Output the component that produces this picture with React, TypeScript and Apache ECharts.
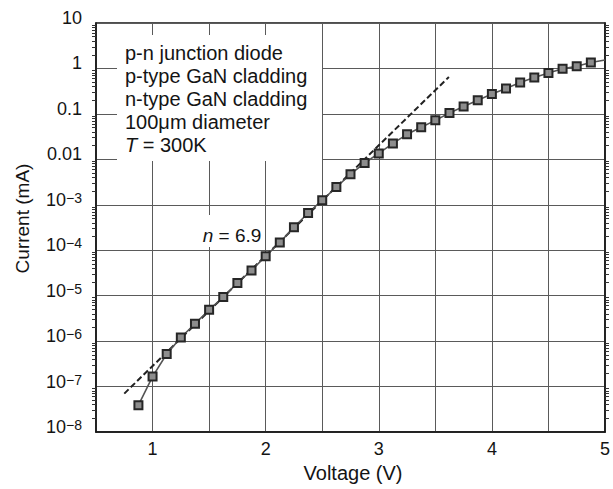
import React, { useEffect, useRef } from "react";
import * as echarts from "echarts";

// ---- data ----
const voltage = [
  0.875, 1.0, 1.125, 1.25, 1.375, 1.5, 1.625, 1.75, 1.875, 2.0, 2.125, 2.25,
  2.375, 2.5, 2.625, 2.75, 2.875, 3.0, 3.125, 3.25, 3.375, 3.5, 3.625, 3.75,
  3.875, 4.0, 4.125, 4.25, 4.375, 4.5, 4.625, 4.75, 4.875, 5.0,
];
const currentMA = [
  3.9e-8, 1.66e-7, 5.2e-7, 1.2e-6, 2.4e-6, 4.9e-6, 9.3e-6, 1.9e-5, 3.6e-5,
  7.4e-5, 1.48e-4, 3.2e-4, 6.6e-4, 1.26e-3, 2.45e-3, 4.7e-3, 8.3e-3, 0.0135,
  0.0224, 0.0355, 0.051, 0.072, 0.105, 0.145, 0.2, 0.275, 0.363, 0.49, 0.63,
  0.79, 0.98, 1.12, 1.35, 1.53,
];
const fitVoltage = [0.75, 3.62];
const fitCurrent = [7.0e-8, 0.65];
const xIntegerLabels = [1, 2, 3, 4, 5];
const yDecadeExponents = [-8, -7, -6, -5, -4, -3, -2, -1, 0, 1];
const infoLines = [
  "p-n junction diode",
  "p-type GaN cladding",
  "n-type GaN cladding",
  "100\u03bcm diameter",
  "{i|T} = 300K",
];
const fitLabel = "{i|n} = 6.9";

const FONT = '"Liberation Sans", Arial, Helvetica, sans-serif';
const INK = "#141414";

function yLabel(v: number): string {
  const e = Math.round(Math.log10(v));
  if (!yDecadeExponents.includes(e)) return "";
  if (e >= -2) {
    const s = e >= 0 ? String(Math.pow(10, e)) : v.toFixed(-e);
    return `{b|${s}}`;
  }
  return `{b|10}{s|\u2212${-e}}`;
}

export default function App() {
  const ref = useRef<HTMLDivElement>(null);
  useEffect(() => {
    if (!ref.current) return;
    const chart = echarts.init(ref.current, undefined, { renderer: "svg" });
    const lastIdx = voltage.length - 1;
    const mainData = voltage.map((v, i) =>
      i === lastIdx
        ? { value: [v, currentMA[i]], symbolSize: 0 }
        : { value: [v, currentMA[i]] }
    );
    const fitData = fitVoltage.map((v, i) => [v, fitCurrent[i]]);

    const minorCommon = {
      show: true,
      splitNumber: 9,
      length: 4,
      lineStyle: { color: "#333", width: 1 },
    };

    chart.setOption({
      animation: false,
      backgroundColor: "#fff",
      textStyle: { fontFamily: FONT },
      grid: {
        left: 96,
        right: 7,
        top: 23,
        bottom: 57,
        show: true,
        borderColor: INK,
        borderWidth: 1.5,
        backgroundColor: "#fff",
      },
      xAxis: {
        type: "value",
        min: 0.5,
        max: 5,
        interval: 0.5,
        name: "Voltage (V)",
        nameLocation: "middle",
        nameGap: 28,
        nameTextStyle: {
          fontSize: 20,
          color: INK,
          fontFamily: FONT,
          padding: [0, 0, 0, 5],
        },
        axisLine: { show: true, lineStyle: { color: INK, width: 1.5 } },
        axisTick: { show: false },
        splitLine: { show: true, lineStyle: { color: "#5a5a5a", width: 1 } },
        axisLabel: {
          fontSize: 18,
          color: INK,
          fontFamily: FONT,
          margin: 8,
          formatter: (v: number) =>
            xIntegerLabels.includes(v) ? String(v) : "",
        },
      },
      yAxis: [
        {
          type: "log",
          logBase: 10,
          min: 1e-8,
          max: 10,
          position: "left",
          name: "Current (mA)",
          nameLocation: "middle",
          nameGap: 64,
          nameTextStyle: {
            fontSize: 19,
            color: INK,
            fontFamily: FONT,
            padding: [0, 0, 0, 18],
          },
          axisLine: { show: true, lineStyle: { color: INK, width: 1.5 } },
          axisTick: { show: false },
          minorTick: minorCommon,
          splitLine: { show: true, lineStyle: { color: "#5a5a5a", width: 1 } },
          axisLabel: {
            margin: 14,
            padding: [0, 0, 10, 0],
            formatter: yLabel,
            rich: {
              b: { fontSize: 18, lineHeight: 18, color: INK, fontFamily: FONT },
              s: {
                fontSize: 14,
                lineHeight: 12,
                verticalAlign: "top",
                color: INK,
                fontFamily: FONT,
              },
            },
          },
        },
        {
          type: "log",
          logBase: 10,
          min: 1e-8,
          max: 10,
          position: "right",
          axisLine: { show: true, lineStyle: { color: INK, width: 1.5 } },
          axisTick: { show: false },
          minorTick: minorCommon,
          splitLine: { show: false },
          axisLabel: { show: false },
        },
      ],
      series: [
        {
          type: "line",
          name: "fit",
          data: fitData,
          symbol: "none",
          lineStyle: { color: "#222", width: 2, type: [6, 3] },
          z: 3,
        },
        {
          type: "line",
          name: "I-V",
          data: mainData,
          symbol: "rect",
          symbolSize: 8,
          itemStyle: { color: "#8d8d8d", borderColor: "#262626", borderWidth: 2 },
          lineStyle: { color: "#555", width: 1.6 },
          z: 4,
        },
      ],
      graphic: [
        {
          type: "rect",
          z: 100,
          shape: { x: 117, y: 35, width: 205, height: 126 },
          style: { fill: "#fff" },
        },
        {
          type: "text",
          z: 101,
          x: 125,
          y: 41,
          style: {
            text: infoLines.join("\n"),
            fontSize: 20,
            lineHeight: 23,
            fontFamily: FONT,
            fill: INK,
            rich: {
              i: {
                fontSize: 20,
                lineHeight: 23,
                fontStyle: "italic",
                fontFamily: FONT,
                fill: INK,
              },
            },
          },
        },
        {
          type: "rect",
          z: 100,
          shape: { x: 197, y: 215, width: 66, height: 32 },
          style: { fill: "#fff" },
        },
        {
          type: "text",
          z: 101,
          x: 232,
          y: 235,
          style: {
            text: fitLabel,
            fontSize: 19,
            fontFamily: FONT,
            fill: INK,
            align: "center",
            verticalAlign: "middle",
            rich: {
              i: { fontSize: 19, fontStyle: "italic", fontFamily: FONT, fill: INK },
            },
          },
        },
      ],
    });
    return () => chart.dispose();
  }, []);
  return (
    <div
      ref={ref}
      style={{ position: "fixed", left: 0, top: 0, width: 613, height: 489 }}
    />
  );
}
